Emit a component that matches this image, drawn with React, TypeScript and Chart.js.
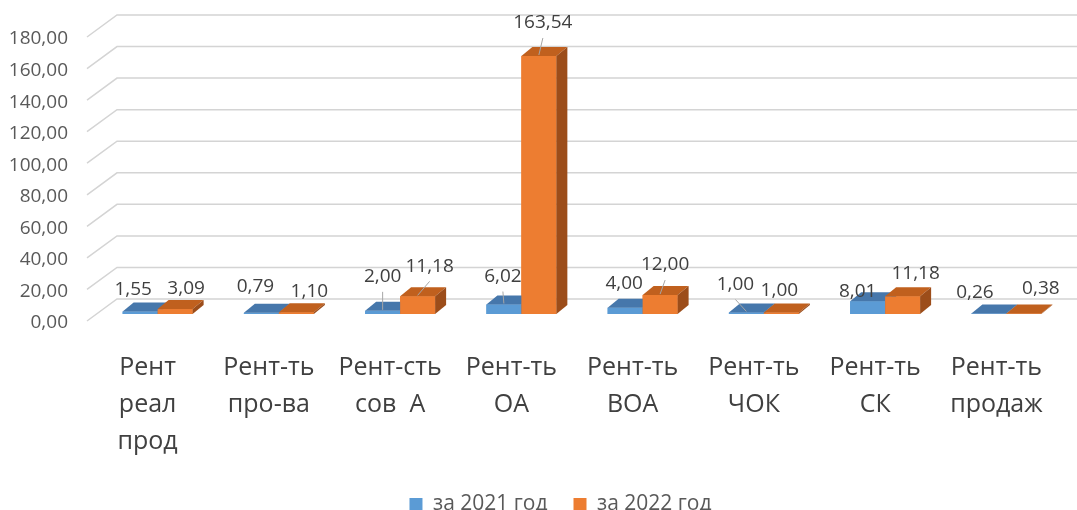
import React, { useEffect, useRef } from "react";
import { Chart, registerables } from "chart.js";

Chart.register(...registerables);

// Categories (multi-line axis labels)
const categoryLabels: string[][] = [
  ["Рент", "реал", "прод"],
  ["Рент-ть", "про-ва"],
  ["Рент-сть", "сов  А"],
  ["Рент-ть", "ОА"],
  ["Рент-ть", "ВОА"],
  ["Рент-ть", "ЧОК"],
  ["Рент-ть", "СК"],
  ["Рент-ть", "продаж"],
];

const seriesNames = ["за 2021 год", "за 2022 год"];
const values2021 = [1.55, 0.79, 2.0, 6.02, 4.0, 1.0, 8.01, 0.26];
const values2022 = [3.09, 1.1, 11.18, 163.54, 12.0, 1.0, 11.18, 0.38];

const yMin = 0;
const yMax = 180;
const yStep = 20;

// Value label placement relative to the top of each bar's front face
const labelOffsets2021: [number, number][] = [
  [-7, -22], [-6, -26], [0, -34], [-1, -28], [-1, -24], [-11, -28], [-10, -10], [-14, -21],
];
const labelOffsets2022: [number, number][] = [
  [11, -21], [13, -21], [12, -30], [4, -33], [5, -30], [-2, -22], [13, -23], [17, -25],
];
const leaders2021 = [false, false, true, true, false, true, false, false];
const leaders2022 = [false, false, true, true, true, false, false, false];

// Face colours: front, top, side
const blueFaces = ["#5B9BD5", "#4677AB", "#3D6A98"];
const orangeFaces = ["#ED7D31", "#C0601E", "#9C4D1A"];

// Bar depth projection and floor projection
const BAR_DX = 11;
const BAR_DY = 9;
const FLOOR_FRONT = { dx: -10, dy: 7 };
const FLOOR_BACK = { dx: 20, dy: -15 };

// Plot geometry
const PLOT_LEFT = 97;
const LEGEND_SHIFT = 27;

const fmt = (v: number) => v.toFixed(2).replace(".", ",");

// Moves the legend row to the right of the canvas centre
const legendShiftPlugin = {
  id: "legendShift",
  afterLayout(chart: any) {
    if (chart.legend) {
      chart.legend.left += LEGEND_SHIFT;
      chart.legend.right += LEGEND_SHIFT;
    }
  },
};

const threeDPlugin = {
  id: "threeD",
  beforeDatasetsDraw(chart: any) {
    const { ctx, chartArea, scales } = chart;
    const y = scales.y;
    ctx.save();
    ctx.strokeStyle = "#D4D4D4";
    ctx.lineWidth = 1.5;
    y.ticks.forEach((t: any) => {
      const py = y.getPixelForValue(t.value);
      ctx.beginPath();
      ctx.moveTo(chartArea.left + FLOOR_FRONT.dx, py + FLOOR_FRONT.dy);
      ctx.lineTo(chartArea.left + FLOOR_BACK.dx, py + FLOOR_BACK.dy);
      ctx.lineTo(chart.width, py + FLOOR_BACK.dy);
      ctx.stroke();
    });
    ctx.restore();
  },
  afterDatasetsDraw(chart: any) {
    const { ctx } = chart;
    const faces = [blueFaces, orangeFaces];
    const offsets = [labelOffsets2021, labelOffsets2022];
    const leaders = [leaders2021, leaders2022];
    const n = chart.data.labels.length;
    ctx.save();
    // 3D bar bodies, painted left to right within each category
    for (let i = 0; i < n; i++) {
      chart.data.datasets.forEach((_ds: any, di: number) => {
        const bar = chart.getDatasetMeta(di).data[i];
        const { x, y, base, width } = bar.getProps(["x", "y", "base", "width"], true);
        const l = x - width / 2;
        const r = x + width / 2;
        const f = faces[di];
        ctx.fillStyle = f[0];
        ctx.fillRect(l, y, width, base - y);
        ctx.fillStyle = f[1];
        ctx.beginPath();
        ctx.moveTo(l, y);
        ctx.lineTo(r, y);
        ctx.lineTo(r + BAR_DX, y - BAR_DY);
        ctx.lineTo(l + BAR_DX, y - BAR_DY);
        ctx.closePath();
        ctx.fill();
        ctx.fillStyle = f[2];
        ctx.beginPath();
        ctx.moveTo(r, y);
        ctx.lineTo(r + BAR_DX, y - BAR_DY);
        ctx.lineTo(r + BAR_DX, base - BAR_DY);
        ctx.lineTo(r, base);
        ctx.closePath();
        ctx.fill();
      });
    }
    // Value labels with leader lines
    ctx.font = "19px 'Open Sans', sans-serif";
    ctx.textAlign = "center";
    ctx.textBaseline = "middle";
    chart.data.datasets.forEach((ds: any, di: number) => {
      chart.getDatasetMeta(di).data.forEach((bar: any, i: number) => {
        const { x, y } = bar.getProps(["x", "y"], true);
        const [ox, oy] = offsets[di][i];
        const lx = x + ox;
        const ly = y + oy;
        if (leaders[di][i]) {
          ctx.strokeStyle = "#A6A6A6";
          ctx.lineWidth = 1;
          ctx.beginPath();
          ctx.moveTo(lx, ly + 15);
          ctx.lineTo(x, y - 1);
          ctx.stroke();
        }
        ctx.fillStyle = "#404040";
        ctx.fillText(fmt(ds.data[i]), lx, ly);
      });
    });
    ctx.restore();
  },
};

export default function App() {
  const ref = useRef<HTMLCanvasElement>(null);

  useEffect(() => {
    if (!ref.current) return;
    Chart.defaults.font.family = "'Open Sans', sans-serif";
    const chart = new Chart(ref.current, {
      type: "bar",
      data: {
        labels: categoryLabels,
        datasets: [
          {
            label: seriesNames[0],
            data: values2021,
            backgroundColor: blueFaces[0],
            categoryPercentage: 0.577,
            barPercentage: 1,
          },
          {
            label: seriesNames[1],
            data: values2022,
            backgroundColor: orangeFaces[0],
            categoryPercentage: 0.577,
            barPercentage: 1,
          },
        ],
      },
      options: {
        responsive: false,
        animation: false,
        devicePixelRatio: 1,
        layout: { padding: { top: 30, right: 10, left: 0, bottom: 0 } },
        plugins: {
          tooltip: { enabled: false },
          legend: {
            position: "bottom",
            labels: {
              boxWidth: 13,
              boxHeight: 13,
              padding: 26,
              color: "#595959",
              font: { size: 21 },
            },
          },
        },
        scales: {
          x: {
            grid: { display: false, drawTicks: false },
            border: { display: false },
            ticks: {
              color: "#404040",
              font: { size: 25, lineHeight: 1.48 },
              padding: 35,
              labelOffset: -10,
              maxRotation: 0,
              autoSkip: false,
            },
            afterFit: (s: any) => {
              s.height = 154;
              s.paddingLeft = 0;
              s.paddingRight = 0;
            },
          },
          y: {
            min: yMin,
            max: yMax,
            grid: { display: false, drawTicks: false },
            border: { display: false },
            ticks: {
              stepSize: yStep,
              color: "#595959",
              font: { size: 19 },
              padding: 29,
              labelOffset: 9,
              callback: (v: any) => fmt(Number(v)),
            },
            afterFit: (s: any) => {
              s.width = PLOT_LEFT;
              s.paddingTop = 0;
              s.paddingBottom = 0;
            },
          },
        },
      },
      plugins: [legendShiftPlugin, threeDPlugin],
    });
    return () => chart.destroy();
  }, []);

  return (
    <div
      style={{
        position: "fixed",
        left: 0,
        top: 0,
        width: 1077,
        height: 510,
        overflow: "hidden",
        background: "#fff",
      }}
    >
      <canvas ref={ref} width={1077} height={525} style={{ display: "block" }} />
    </div>
  );
}
